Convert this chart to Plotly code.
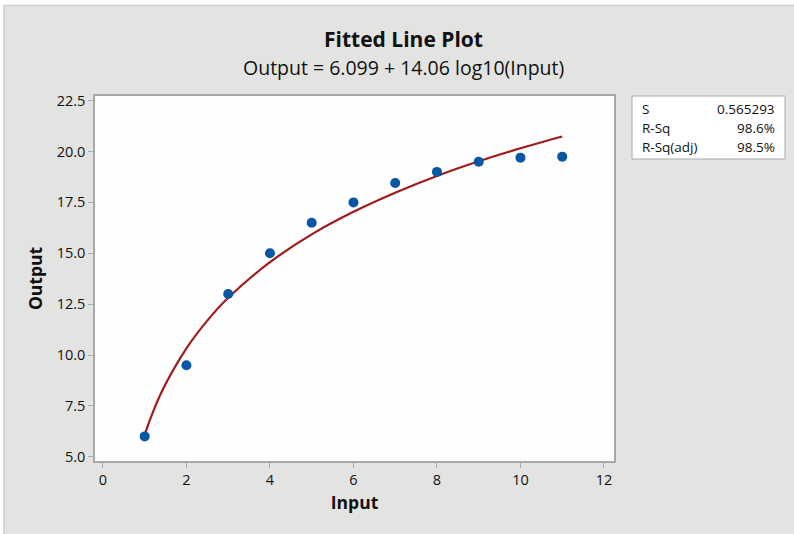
import plotly.graph_objects as go

# ---- data ----
inputs = [1, 2, 3, 4, 5, 6, 7, 8, 9, 10, 11]
outputs = [6.0, 9.5, 13.0, 15.0, 16.5, 17.5, 18.45, 19.0, 19.5, 19.7, 19.75]

# fitted curve values
fit_x = [1, 1.25, 1.5, 2, 2.5, 3, 4, 5, 6, 7, 8, 9, 10, 11]
fit_y = [6.10, 7.46, 8.57, 10.33, 11.69, 12.81, 14.56, 15.93, 17.04, 17.98, 18.80, 19.52, 20.16, 20.74]

title_text = "Fitted Line Plot"
subtitle_text = "Output = 6.099 + 14.06 log10(Input)"
stat_names = ["S", "R-Sq", "R-Sq(adj)"]
stat_values = ["0.565293", "98.6%", "98.5%"]
x_ticks = [0, 2, 4, 6, 8, 10, 12]
y_ticks = [5.0, 7.5, 10.0, 12.5, 15.0, 17.5, 20.0, 22.5]

W, H = 794, 534
L, R, T, B = 95, 180, 96, 73
PW, PH = W - L - R, H - T - B


def px(xp):
    return (xp - L) / PW


def py(yp):
    return (H - B - yp) / PH


FONT = "'Open Sans', 'Noto Sans', sans-serif"
GRAY = "#e3e4e1"
AXC = "#a8a8a8"

fig = go.Figure()
fig.add_trace(go.Scatter(x=fit_x, y=fit_y, mode="lines", line=dict(color="#a01c1c", width=2.2, shape="spline"),
                         hoverinfo="skip", showlegend=False))
fig.add_trace(go.Scatter(x=inputs, y=outputs, mode="markers",
                         marker=dict(color="#0856a6", size=10), showlegend=False))

shapes = [
    # white outer strips and border
    dict(type="rect", xref="paper", yref="paper", x0=px(-5), x1=px(W + 5), y0=py(5), y1=py(-5),
         fillcolor="white", line=dict(width=0), layer="above"),
    dict(type="rect", xref="paper", yref="paper", x0=px(-5), x1=px(3.5), y0=py(H + 5), y1=py(-5),
         fillcolor="white", line=dict(width=0), layer="above"),
    dict(type="line", xref="paper", yref="paper", x0=px(4), x1=px(W), y0=py(5.5), y1=py(5.5),
         line=dict(color="#cfd0cd", width=1.5), layer="above"),
    dict(type="line", xref="paper", yref="paper", x0=px(4), x1=px(4), y0=py(5.5), y1=py(H),
         line=dict(color="#cfd0cd", width=1.5), layer="above"),
    # stats box
    dict(type="rect", xref="paper", yref="paper", x0=px(632), x1=px(785), y0=py(159), y1=py(96),
         fillcolor="white", line=dict(color="#a8a8a8", width=1), layer="above"),
]

annotations = [
    dict(text="<b>" + title_text + "</b>", x=px(403), y=py(39), xref="paper", yref="paper",
         showarrow=False, font=dict(size=21, color="#111", family=FONT), xanchor="center", yanchor="middle"),
    dict(text=subtitle_text, x=px(403), y=py(67), xref="paper", yref="paper",
         showarrow=False, font=dict(size=19.5, color="#111", family=FONT), xanchor="center", yanchor="middle"),
]
row_y = [109, 128, 147]
for name, val, ry in zip(stat_names, stat_values, row_y):
    annotations.append(dict(text=name, x=px(640), y=py(ry), xref="paper", yref="paper", showarrow=False,
                            font=dict(size=13.5, color="#111", family=FONT), xanchor="left", yanchor="middle"))
    annotations.append(dict(text=val, x=px(777), y=py(ry), xref="paper", yref="paper", showarrow=False,
                            font=dict(size=13.5, color="#111", family=FONT), xanchor="right", yanchor="middle"))

fig.update_layout(
    width=W, height=H,
    margin=dict(l=L, r=R, t=T, b=B, autoexpand=False),
    paper_bgcolor=GRAY, plot_bgcolor="#fdfefd",
    font=dict(family=FONT, color="#111"),
    shapes=shapes, annotations=annotations,
    xaxis=dict(range=[-0.19, 12.24], tickvals=x_ticks, ticktext=[str(v) for v in x_ticks],
               showgrid=False, zeroline=False, showline=True, mirror=True, linecolor=AXC, linewidth=1.5,
               ticks="outside", ticklen=5, tickcolor=AXC, tickfont=dict(size=14.5, color="#111"),
               title=dict(text="<b>Input</b>", font=dict(size=17.5, color="#111"), standoff=9)),
    yaxis=dict(range=[4.79, 22.73], tickvals=y_ticks, ticktext=[f"{v:.1f}" for v in y_ticks],
               showgrid=False, zeroline=False, showline=True, mirror=True, linecolor=AXC, linewidth=1.5,
               ticks="outside", ticklen=5, tickcolor=AXC, tickfont=dict(size=14.5, color="#111"),
               title=dict(text="<b>Output</b>", font=dict(size=17.5, color="#111"), standoff=10)),
)

fig.write_html("out.html", config={"displayModeBar": False},
               post_script="document.body.style.margin='0';document.body.style.padding='0';")
